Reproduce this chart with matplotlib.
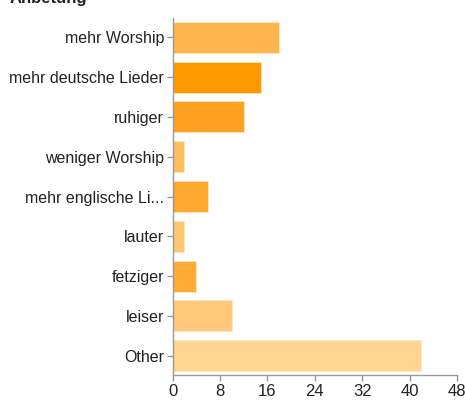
import matplotlib
matplotlib.use("Agg")
import matplotlib.pyplot as plt

categories = ["mehr Worship", "mehr deutsche Lieder", "ruhiger", "weniger Worship",
              "mehr englische Li...", "lauter", "fetziger", "leiser", "Other"]
values = [18, 15, 12, 2, 6, 2, 4, 10, 42]
colors = ["#FFB54D", "#FF9900", "#FFA020", "#FFBE5E", "#FFA72F",
          "#FFC670", "#FFAB35", "#FFC87A", "#FFD592"]
xticks = [0, 8, 16, 24, 32, 40, 48]
title = "Anbetung"

plt.rcParams['font.family'] = ['Liberation Sans', 'DejaVu Sans']

fig = plt.figure(figsize=(4.65, 4.03), dpi=100)
W, H = 465, 403
left, right, top, bottom = 172.5, 457, 17.6, 375.4
ax = fig.add_axes([left / W, 1 - bottom / H, (right - left) / W, (bottom - top) / H])

ypos = list(range(len(categories)))
ax.barh(ypos, values, height=0.78, color=colors, edgecolor="#FFE6C0", linewidth=0.6)
ax.set_ylim(len(categories) - 0.5, -0.5)
ax.set_xlim(0, 48)
ax.set_yticks(ypos)
ax.set_yticklabels(categories, fontsize=11.5, color="#222222")
ax.set_xticks(xticks)
ax.set_xticklabels([str(t) for t in xticks], fontsize=12, color="#222222")

for s in ["top", "right"]:
    ax.spines[s].set_visible(False)
for s in ["left", "bottom"]:
    ax.spines[s].set_color("#999999")
    ax.spines[s].set_linewidth(1)
ax.tick_params(axis="both", colors="#999999", length=4, width=1, labelcolor="#222222")
ax.tick_params(axis="y", pad=2)
ax.tick_params(axis="x", pad=2)

fig.text(10 / W, 1 - 3 / H, title, fontsize=12, fontweight="bold", color="#222222",
         va="baseline", ha="left")

fig.savefig("out.png", dpi=100)
